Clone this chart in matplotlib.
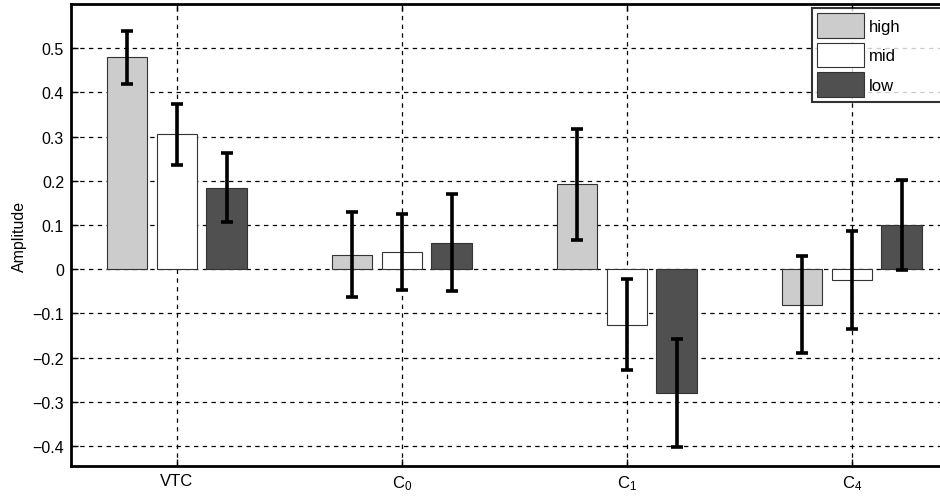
import numpy as np
import matplotlib
matplotlib.use("Agg")
import matplotlib.pyplot as plt
from matplotlib.ticker import FuncFormatter

plt.rcParams['font.family'] = ['Liberation Sans', 'DejaVu Sans']
plt.rcParams['mathtext.fontset'] = 'custom'
plt.rcParams['mathtext.rm'] = 'Liberation Sans'
plt.rcParams['mathtext.it'] = 'Liberation Sans'

regions = ["VTC", "C$_0$", "C$_1$", "C$_4$"]
series = ["high", "mid", "low"]
high = [0.479, 0.033, 0.192, -0.080]
mid = [0.305, 0.039, -0.125, -0.024]
low = [0.184, 0.060, -0.279, 0.101]
high_err = [0.061, 0.096, 0.125, 0.109]
mid_err = [0.069, 0.087, 0.102, 0.111]
low_err = [0.078, 0.110, 0.122, 0.102]

colors = ["#cccccc", "#ffffff", "#505050"]

fig = plt.figure(figsize=(9.4, 5.02), dpi=100)
# right side of the axes runs off the picture, as in the reference
ax = fig.add_axes([71/940, 35/502, 886.5/940, 462/502])

x = np.arange(1, len(regions) + 1)
offs = [-0.222, 0.0, 0.222]
w = 0.18
vals = [high, mid, low]
errs = [high_err, mid_err, low_err]
handles = []
for i in range(3):
    b = ax.bar(x + offs[i], vals[i], w, color=colors[i], edgecolor="#333333",
               linewidth=0.8, zorder=3, label=series[i])
    handles.append(b)
    ax.errorbar(x + offs[i], vals[i], yerr=errs[i], fmt="none", ecolor="black",
                elinewidth=2.6, capsize=4.5, capthick=2.6, zorder=4)

ax.set_xlim(0.53, 4.47)
ax.set_ylim(-0.445, 0.6)
ax.set_xticks(x)
ax.set_xticklabels(regions, fontsize=12)
ax.set_yticks(np.arange(-0.4, 0.51, 0.1))


def fmt(v, pos):
    if abs(v) < 1e-9:
        return "0"
    return ("%.1f" % v).replace("-", "\u2212")


ax.yaxis.set_major_formatter(FuncFormatter(fmt))
ax.tick_params(direction="in", length=5, width=1, labelsize=11.5,
               top=True, right=True, pad=5)
ax.tick_params(axis="x", labelsize=12, pad=5)
ax.grid(True, color="black", linestyle=(0, (3.5, 3.5)), linewidth=0.9, zorder=0)
ax.set_axisbelow(True)
for s in ax.spines.values():
    s.set_linewidth(2)
ax.set_ylabel("Amplitude", fontsize=11.5, labelpad=4)

# legend box runs past the right edge of the picture
leg = fig.legend(handles=handles, labels=series, loc="upper left",
                 bbox_to_anchor=(812/940, 488/502, 150/940, 5/502), mode="expand",
                 frameon=True, fancybox=False,
                 edgecolor="black", fontsize=12, handlelength=2.8,
                 handleheight=1.9, handletextpad=0.3, labelspacing=0.3,
                 borderpad=0.3, borderaxespad=0.0)
leg.get_frame().set_linewidth(1.5)

fig.savefig("out.png", dpi=100)
